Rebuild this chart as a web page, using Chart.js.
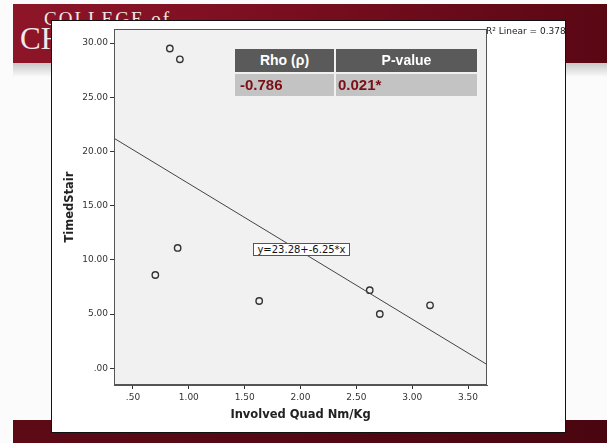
<!DOCTYPE html>
<html>
<head>
<meta charset="utf-8">
<script src="https://cdn.jsdelivr.net/npm/chart.js@4.4.0/dist/chart.umd.min.js"></script>
<style>
body { margin:0; width:607px; height:443px; background:#fbfbfb; position:relative; overflow:hidden; font-family:"DejaVu Sans", sans-serif; }
#banda { position:absolute; left:13px; top:4px; width:594px; height:59px; background:linear-gradient(90deg,#8e1528 0%,#7a0e20 45%,#5a0714 100%); }
#sombra { position:absolute; left:13px; top:63px; width:594px; height:14px; background:linear-gradient(#c8c8c8,#fbfbfb); }
#pie { position:absolute; left:13px; top:420px; width:594px; height:23px; background:linear-gradient(90deg,#5c0a16,#4a0610); }
#logo1 { position:absolute; left:44px; top:8px; color:#f1e9ea; font-family:"Liberation Serif", serif; font-size:19px; letter-spacing:2px; }
#logo2 { position:absolute; left:20px; top:21px; color:#f1e9ea; font-family:"Liberation Serif", serif; font-size:31px; }
#diapo { position:absolute; left:51px; top:20px; width:513px; height:411px; background:#fff; border:1px solid #111; }
#grafica { position:absolute; left:51px; top:20px; }
#r2 { position:absolute; left:486px; top:26px; font-size:9px; color:#222; }
#ecuacion { position:absolute; left:253px; top:243px; width:95px; height:11px; line-height:11px; border:1px solid #555; background:#fff; font-size:10px; color:#111; text-align:center; }
.celda { position:absolute; font-family:"Liberation Sans", Arial, sans-serif; font-weight:bold; }
.cab { background:#5a5a5a; color:#fff; font-size:14px; text-align:center; height:23px; line-height:23px; top:49px; }
.fila { background:#c3c3c3; color:#7a0f14; font-size:15px; height:22px; line-height:22px; top:74px; }
</style>
</head>
<body>
<div id="banda"></div>
<div id="sombra"></div>
<div id="pie"></div>
<div id="logo1">COLLEGE of</div>
<div id="logo2">CHARLESTON</div>
<div id="diapo"></div>
<canvas id="grafica" width="515" height="413"></canvas>
<div id="r2">R² Linear = 0.378</div>
<div id="ecuacion">y=23.28+-6.25*x</div>
<div class="celda cab" style="left:235px;width:99px;">Rho (ρ)</div>
<div class="celda cab" style="left:336px;width:141px;">P-value</div>
<div class="celda fila" style="left:235px;width:94px;padding-left:5px;">-0.786</div>
<div class="celda fila" style="left:336px;width:139px;padding-left:2px;">0.021*</div>

<script>
// datos
const involvedQuad = [0.83, 0.92, 0.90, 0.70, 1.63, 2.62, 2.71, 3.16]
const timedStair = [29.5, 28.5, 11.1, 8.6, 6.2, 7.2, 5.0, 5.8]

// recta de ajuste y = 23.28 - 6.25x en los bordes del grafico
const ajusteX = [0.33, 3.67]
const ajusteY = [21.22, 0.34]

const xTicks = [0.5, 1, 1.5, 2, 2.5, 3, 3.5]
const xTickLabels = [".50", "1.00", "1.50", "2.00", "2.50", "3.00", "3.50"]
const yTicks = [0, 5, 10, 15, 20, 25, 30]
const yTickLabels = [".00", "5.00", "10.00", "15.00", "20.00", "25.00", "30.00"]

const puntos = involvedQuad.map((x, i) => ({ x: x, y: timedStair[i] }))
const recta = ajusteX.map((x, i) => ({ x: x, y: ajusteY[i] }))

const marco = {
    id: "marco",
    beforeDraw(chart) {
        const a = chart.chartArea
        const c = chart.ctx
        c.save()
        c.fillStyle = "#f1f1f1"
        c.fillRect(a.left, a.top, a.right - a.left, a.bottom - a.top)
        c.restore()
    },
    afterDatasetsDraw(chart) {
        const a = chart.chartArea
        const c = chart.ctx
        c.save()
        c.strokeStyle = "#555"
        c.lineWidth = 1
        c.strokeRect(a.left + 0.5, a.top + 0.5, a.right - a.left - 1, a.bottom - a.top - 1)
        c.restore()
    }
}

const fuenteTick = { family: "DejaVu Sans", size: 9 }
const fuenteTitulo = { family: "DejaVu Sans", size: 11.5, weight: "bold" }

new Chart(document.getElementById("grafica").getContext("2d"), {
    type: "scatter",
    data: {
        datasets: [
            {
                type: "line",
                data: recta,
                borderColor: "#444",
                borderWidth: 1,
                pointRadius: 0,
                fill: false
            },
            {
                data: puntos,
                pointRadius: 3.2,
                pointBorderWidth: 1.4,
                borderColor: "#333",
                backgroundColor: "rgba(0,0,0,0)"
            }
        ]
    },
    options: {
        responsive: false,
        animation: false,
        layout: { padding: { left: 0, right: 79, top: 9, bottom: 0 } },
        plugins: { legend: { display: false }, tooltip: { enabled: false } },
        scales: {
            x: {
                type: "linear",
                min: 0.33,
                max: 3.67,
                afterBuildTicks: s => { s.ticks = xTicks.map(v => ({ value: v })) },
                afterFit: s => { s.height = 48 },
                ticks: {
                    callback: (v, i) => xTickLabels[i],
                    color: "#333",
                    font: fuenteTick,
                    padding: 3,
                    maxRotation: 0
                },
                grid: { drawOnChartArea: false, tickLength: 4, color: "#333" },
                border: { color: "#555" },
                title: {
                    display: true,
                    text: "Involved Quad Nm/Kg",
                    color: "#222",
                    font: fuenteTitulo,
                    padding: { top: 0, bottom: 11 }
                }
            },
            y: {
                min: -1.55,
                max: 31.3,
                afterBuildTicks: s => { s.ticks = yTicks.map(v => ({ value: v })) },
                afterFit: s => { s.width = 63 },
                ticks: {
                    callback: (v, i) => yTickLabels[i],
                    color: "#333",
                    font: fuenteTick,
                    padding: 2
                },
                grid: { drawOnChartArea: false, tickLength: 4, color: "#333" },
                border: { color: "#555" },
                title: {
                    display: true,
                    text: "TimedStair",
                    color: "#222",
                    font: fuenteTitulo,
                    padding: { top: 12, bottom: 0 }
                }
            }
        }
    },
    plugins: [marco]
})
</script>
</body>
</html>
